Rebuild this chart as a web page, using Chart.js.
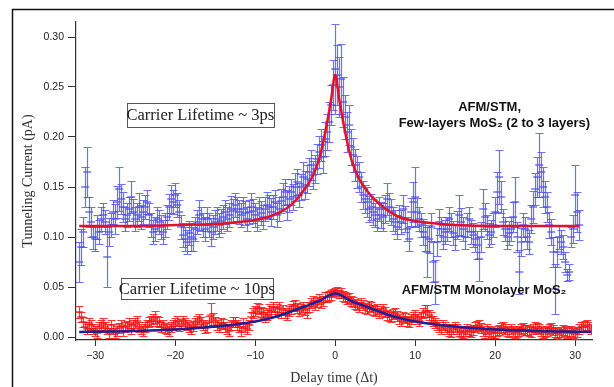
<!DOCTYPE html>
<html>
<head>
<meta charset="utf-8">
<script src="https://cdn.jsdelivr.net/npm/chart.js@4.4.1/dist/chart.umd.min.js"></script>
<style>
  html, body { margin: 0; padding: 0; background: #fff; }
  #wrap { width: 614px; height: 387px; position: relative; }
</style>
</head>
<body>
<div id="wrap"><canvas id="tc-chart"></canvas></div>
<script>
// delay times (ps), shared by both measurements
const delay = [
  -32,-31.75,-31.5,-31.25,-31,-30.75,-30.5,-30.25,
  -30,-29.75,-29.5,-29.25,-29,-28.75,-28.5,-28.25,
  -28,-27.75,-27.5,-27.25,-27,-26.75,-26.5,-26.25,
  -26,-25.75,-25.5,-25.25,-25,-24.75,-24.5,-24.25,
  -24,-23.75,-23.5,-23.25,-23,-22.75,-22.5,-22.25,
  -22,-21.75,-21.5,-21.25,-21,-20.75,-20.5,-20.25,
  -20,-19.75,-19.5,-19.25,-19,-18.75,-18.5,-18.25,
  -18,-17.75,-17.5,-17.25,-17,-16.75,-16.5,-16.25,
  -16,-15.75,-15.5,-15.25,-15,-14.75,-14.5,-14.25,
  -14,-13.75,-13.5,-13.25,-13,-12.75,-12.5,-12.25,
  -12,-11.75,-11.5,-11.25,-11,-10.75,-10.5,-10.25,
  -10,-9.75,-9.5,-9.25,-9,-8.75,-8.5,-8.25,
  -8,-7.75,-7.5,-7.25,-7,-6.75,-6.5,-6.25,
  -6,-5.75,-5.5,-5.25,-5,-4.75,-4.5,-4.25,
  -4,-3.75,-3.5,-3.25,-3,-2.75,-2.5,-2.25,
  -2,-1.75,-1.5,-1.25,-1,-0.75,-0.5,-0.25,
  0,0.25,0.5,0.75,1,1.25,1.5,1.75,
  2,2.25,2.5,2.75,3,3.25,3.5,3.75,
  4,4.25,4.5,4.75,5,5.25,5.5,5.75,
  6,6.25,6.5,6.75,7,7.25,7.5,7.75,
  8,8.25,8.5,8.75,9,9.25,9.5,9.75,
  10,10.25,10.5,10.75,11,11.25,11.5,11.75,
  12,12.25,12.5,12.75,13,13.25,13.5,13.75,
  14,14.25,14.5,14.75,15,15.25,15.5,15.75,
  16,16.25,16.5,16.75,17,17.25,17.5,17.75,
  18,18.25,18.5,18.75,19,19.25,19.5,19.75,
  20,20.25,20.5,20.75,21,21.25,21.5,21.75,
  22,22.25,22.5,22.75,23,23.25,23.5,23.75,
  24,24.25,24.5,24.75,25,25.25,25.5,25.75,
  26,26.25,26.5,26.75,27,27.25,27.5,27.75,
  28,28.25,28.5,28.75,29,29.25,29.5,29.75,
  30,30.25,30.5,30.75,31,31.25,31.5,31.75,
  32
];

// few-layers MoS2 (blue), pA
const fewLayer = [
  0.075,0.090,0.105,0.150,0.165,0.125,0.115,0.100,
  0.098,0.110,0.105,0.118,0.122,0.115,0.080,0.105,
  0.112,0.125,0.118,0.135,0.148,0.138,0.130,0.118,
  0.122,0.128,0.140,0.125,0.118,0.122,0.130,0.120,
  0.125,0.130,0.135,0.122,0.112,0.105,0.108,0.118,
  0.115,0.110,0.105,0.112,0.120,0.130,0.138,0.135,
  0.142,0.132,0.125,0.110,0.102,0.098,0.095,0.104,
  0.100,0.098,0.108,0.115,0.122,0.118,0.112,0.108,
  0.118,0.112,0.105,0.110,0.115,0.118,0.112,0.116,
  0.120,0.125,0.118,0.122,0.128,0.126,0.132,0.128,
  0.125,0.122,0.128,0.124,0.118,0.125,0.130,0.126,
  0.122,0.118,0.128,0.124,0.120,0.128,0.132,0.130,
  0.125,0.130,0.135,0.122,0.128,0.136,0.140,0.145,
  0.132,0.138,0.145,0.140,0.150,0.155,0.142,0.150,
  0.160,0.152,0.158,0.165,0.172,0.162,0.168,0.178,
  0.185,0.192,0.180,0.198,0.205,0.215,0.232,0.252,
  0.268,0.262,0.250,0.258,0.235,0.220,0.205,0.212,
  0.190,0.182,0.172,0.165,0.160,0.150,0.142,0.138,
  0.135,0.128,0.130,0.125,0.122,0.118,0.128,0.122,
  0.120,0.128,0.138,0.130,0.125,0.118,0.115,0.110,
  0.120,0.115,0.128,0.118,0.108,0.098,0.125,0.135,
  0.140,0.125,0.118,0.112,0.105,0.100,0.085,0.098,
  0.110,0.075,0.055,0.095,0.115,0.108,0.100,0.105,
  0.108,0.118,0.112,0.104,0.100,0.112,0.122,0.115,
  0.108,0.100,0.112,0.118,0.105,0.102,0.098,0.092,
  0.078,0.100,0.128,0.120,0.110,0.102,0.105,0.112,
  0.125,0.145,0.160,0.140,0.115,0.108,0.100,0.104,
  0.108,0.120,0.135,0.100,0.065,0.095,0.112,0.108,
  0.100,0.095,0.118,0.130,0.148,0.160,0.172,0.165,
  0.150,0.140,0.130,0.112,0.105,0.085,0.048,0.085,
  0.100,0.095,0.090,0.075,0.062,0.065,0.100,0.108,
  0.142,0.125,0.112,null,null,null,null,null,
  null
];
const fewLayerErr = [
  0.020,0.018,0.015,0.020,0.025,0.015,0.015,0.012,
  0.012,0.012,0.012,0.012,0.012,0.012,0.030,0.014,
  0.012,0.012,0.015,0.016,0.022,0.015,0.015,0.012,
  0.012,0.012,0.016,0.013,0.012,0.012,0.014,0.012,
  0.012,0.012,0.012,0.012,0.012,0.012,0.012,0.012,
  0.012,0.012,0.012,0.012,0.012,0.013,0.014,0.012,
  0.012,0.012,0.012,0.012,0.012,0.012,0.012,0.012,
  0.014,0.012,0.012,0.012,0.015,0.012,0.012,0.012,
  0.012,0.012,0.014,0.012,0.012,0.012,0.012,0.012,
  0.012,0.012,0.012,0.012,0.013,0.012,0.012,0.012,
  0.012,0.012,0.012,0.012,0.012,0.012,0.014,0.012,
  0.012,0.012,0.012,0.012,0.012,0.012,0.013,0.012,
  0.014,0.012,0.012,0.012,0.012,0.012,0.014,0.013,
  0.015,0.013,0.013,0.013,0.014,0.013,0.012,0.013,
  0.015,0.014,0.014,0.014,0.015,0.014,0.014,0.015,
  0.016,0.016,0.016,0.017,0.018,0.020,0.020,0.025,
  0.045,0.030,0.030,0.035,0.025,0.022,0.020,0.020,
  0.018,0.017,0.016,0.016,0.015,0.015,0.014,0.014,
  0.015,0.013,0.013,0.013,0.012,0.012,0.012,0.013,
  0.014,0.014,0.016,0.014,0.013,0.012,0.012,0.012,
  0.012,0.012,0.014,0.013,0.012,0.012,0.014,0.020,
  0.030,0.014,0.012,0.012,0.013,0.014,0.025,0.014,
  0.014,0.020,0.022,0.014,0.013,0.012,0.012,0.012,
  0.012,0.012,0.012,0.012,0.013,0.014,0.020,0.014,
  0.012,0.012,0.012,0.012,0.012,0.012,0.013,0.014,
  0.022,0.015,0.020,0.014,0.012,0.012,0.012,0.012,
  0.015,0.020,0.027,0.016,0.013,0.012,0.012,0.012,
  0.012,0.015,0.025,0.015,0.022,0.014,0.012,0.012,
  0.012,0.012,0.014,0.016,0.016,0.020,0.032,0.020,
  0.020,0.016,0.015,0.013,0.013,0.015,0.025,0.015,
  0.012,0.012,0.012,0.010,0.006,0.008,0.010,0.014,
  0.030,0.020,0.015,null,null,null,null,null,
  null
];

// monolayer MoS2 (red), pA
const monoLayer = [
  0.025,0.020,0.015,0.010,0.008,0.014,0.012,0.008,
  0.006,0.004,0.010,0.012,0.014,0.010,0.008,0.004,
  0.012,0.008,0.004,0.006,0.009,0.012,0.006,0.010,
  0.011,0.014,0.008,0.012,0.014,0.016,0.010,0.008,
  0.006,0.010,0.012,0.015,0.016,0.018,0.020,0.016,
  0.015,0.010,0.012,0.009,0.008,0.006,0.010,0.012,
  0.014,0.016,0.011,0.013,0.016,0.014,0.012,0.010,
  0.008,0.011,0.014,0.016,0.018,0.015,0.012,0.009,
  0.010,0.016,0.022,0.018,0.015,0.012,0.010,0.014,
  0.013,0.010,0.008,0.006,0.012,0.015,0.015,0.012,
  0.010,0.006,0.014,0.010,0.008,0.012,0.020,0.024,
  0.026,0.029,0.028,0.025,0.024,0.020,0.022,0.028,
  0.026,0.030,0.025,0.028,0.030,0.024,0.027,0.024,
  0.022,0.026,0.028,0.031,0.032,0.029,0.026,0.028,
  0.030,0.027,0.024,0.030,0.034,0.036,0.032,0.035,
  0.038,0.034,0.036,0.040,0.040,0.041,0.042,0.044,
  0.045,0.046,0.043,0.044,0.041,0.040,0.038,0.039,
  0.036,0.035,0.033,0.032,0.030,0.034,0.032,0.029,
  0.028,0.031,0.030,0.027,0.026,0.028,0.024,0.026,
  0.028,0.025,0.022,0.021,0.020,0.023,0.024,0.021,
  0.018,0.016,0.020,0.019,0.016,0.015,0.018,0.020,
  0.022,0.018,0.016,0.020,0.024,0.026,0.026,0.022,
  0.020,0.016,0.014,0.012,0.010,0.008,0.012,0.010,
  0.008,0.006,0.005,0.008,0.010,0.008,0.006,0.005,
  0.004,0.006,0.008,0.006,0.005,0.007,0.010,0.011,
  0.012,0.009,0.006,0.004,0.008,0.006,0.005,0.004,
  0.004,0.006,0.007,0.009,0.010,0.008,0.006,0.005,
  0.008,0.006,0.004,0.005,0.006,0.008,0.009,0.007,
  0.007,0.006,0.005,0.008,0.010,0.009,0.008,0.006,
  0.004,0.005,0.006,0.008,0.009,0.007,0.005,0.004,
  0.003,0.005,0.007,0.006,0.004,0.005,0.006,0.004,
  0.003,0.005,0.008,0.010,0.010,0.011,0.012,0.010,
  0.008
];
const monoLayerErr = [
  0.006,0.005,0.005,0.005,0.005,0.005,0.005,0.005,
  0.005,0.005,0.005,0.005,0.005,0.005,0.005,0.005,
  0.005,0.005,0.005,0.005,0.005,0.005,0.005,0.005,
  0.005,0.005,0.005,0.005,0.005,0.005,0.005,0.005,
  0.005,0.005,0.005,0.005,0.005,0.005,0.006,0.005,
  0.005,0.005,0.005,0.005,0.005,0.005,0.005,0.005,
  0.005,0.005,0.005,0.005,0.005,0.005,0.005,0.005,
  0.005,0.005,0.005,0.005,0.005,0.005,0.005,0.005,
  0.005,0.005,0.012,0.006,0.005,0.005,0.005,0.005,
  0.005,0.005,0.005,0.005,0.005,0.005,0.005,0.005,
  0.005,0.005,0.005,0.005,0.005,0.005,0.005,0.005,
  0.005,0.005,0.005,0.005,0.005,0.005,0.005,0.005,
  0.005,0.005,0.005,0.005,0.005,0.005,0.005,0.005,
  0.005,0.005,0.005,0.005,0.005,0.005,0.005,0.005,
  0.005,0.005,0.005,0.005,0.005,0.005,0.005,0.005,
  0.005,0.005,0.005,0.005,0.005,0.005,0.005,0.004,
  0.004,0.004,0.004,0.005,0.005,0.005,0.005,0.005,
  0.005,0.005,0.005,0.005,0.005,0.005,0.005,0.005,
  0.005,0.005,0.005,0.005,0.005,0.005,0.005,0.005,
  0.005,0.005,0.005,0.005,0.005,0.005,0.005,0.005,
  0.005,0.005,0.005,0.005,0.005,0.005,0.005,0.005,
  0.005,0.005,0.005,0.005,0.005,0.006,0.006,0.005,
  0.005,0.005,0.005,0.005,0.005,0.005,0.005,0.005,
  0.005,0.005,0.005,0.005,0.005,0.005,0.005,0.005,
  0.005,0.005,0.005,0.005,0.005,0.005,0.005,0.005,
  0.005,0.005,0.005,0.005,0.005,0.005,0.005,0.005,
  0.005,0.005,0.005,0.005,0.005,0.005,0.005,0.005,
  0.005,0.005,0.005,0.005,0.005,0.005,0.005,0.005,
  0.005,0.005,0.005,0.005,0.005,0.005,0.005,0.005,
  0.005,0.005,0.005,0.005,0.005,0.005,0.005,0.005,
  0.005,0.005,0.005,0.005,0.005,0.005,0.005,0.005,
  0.005,0.005,0.005,0.005,0.005,0.005,0.005,0.005,
  0.005
];

// fitted curves
const fitFewX = [-32,-25,-20,-15,-12,-10,-8,-6,-5,-4,-3,-2,-1.5,-1,-0.5,0,0.5,1,1.5,2,3,4,5,6,8,10,12,15,20,25,30.5];
const fitFewY = [0.111,0.111,0.112,0.113,0.115,0.117,0.121,0.129,0.136,0.146,0.158,0.178,0.195,0.215,0.238,0.262,0.238,0.215,0.195,0.178,0.158,0.146,0.137,0.130,0.120,0.116,0.114,0.112,0.111,0.111,0.111];
const fitMonoX = [-32,-28,-25,-20,-15,-12,-10,-8,-6,-4,-2,0,2,4,6,8,10,12,15,20,25,28,32];
const fitMonoY = [0.0050,0.0055,0.0060,0.0075,0.0105,0.0130,0.0155,0.0190,0.0240,0.0300,0.0360,0.0435,0.0360,0.0300,0.0240,0.0190,0.0155,0.0130,0.0105,0.0075,0.0060,0.0055,0.0050];

const xTicks = [-30, -20, -10, 0, 10, 20, 30];
const yTicks = [0, 0.05, 0.10, 0.15, 0.20, 0.25, 0.30];

(function() {
    'use strict';

    const BLUE = 'rgba(72,72,255,0.78)';
    const RED = 'rgba(255,16,16,0.85)';
    const CAP = 4; // half width of error bar caps, px

    function pts(xs, ys) {
        return xs.map((t, i) => ({ x: t, y: ys[i] }));
    }

    // vertical error bars with caps, drawn under each data set's own markers
    const errorBars = {
        id: 'errorBars',
        beforeDatasetDraw(chart, args) {
            const ds = chart.data.datasets[args.index];
            if (!ds.errors) return;
            const { ctx, chartArea, scales: { x, y } } = chart;
            ctx.save();
            ctx.beginPath();
            ctx.rect(chartArea.left, chartArea.top, chartArea.right - chartArea.left, chartArea.bottom - chartArea.top);
            ctx.clip();
            ctx.strokeStyle = ds.borderColor;
            ctx.lineWidth = 1.2;
            ds.data.forEach((p, i) => {
                const e = ds.errors[i];
                if (p.y == null || e == null) return;
                const px = Math.round(x.getPixelForValue(p.x)) + 0.5;
                const top = Math.round(y.getPixelForValue(p.y + e)) + 0.5;
                const bot = Math.round(y.getPixelForValue(p.y - e)) + 0.5;
                ctx.beginPath();
                ctx.moveTo(px, top); ctx.lineTo(px, bot);
                ctx.moveTo(px - CAP, top); ctx.lineTo(px + CAP, top);
                ctx.moveTo(px - CAP, bot); ctx.lineTo(px + CAP, bot);
                ctx.stroke();
            });
            ctx.restore();
        }
    };

    // frame and text labels
    const notes = {
        id: 'notes',
        afterDraw(chart) {
            const { ctx, scales: { x, y } } = chart;
            ctx.save();
            ctx.strokeStyle = '#111';
            ctx.lineWidth = 1.5;
            ctx.strokeRect(12.5, 9.5, 800, 600);

            function box(text, cx, cy, w, h) {
                const px = x.getPixelForValue(cx), py = y.getPixelForValue(cy);
                ctx.fillStyle = '#fff';
                ctx.fillRect(px - w / 2, py - h / 2, w, h);
                ctx.strokeStyle = '#555';
                ctx.lineWidth = 1;
                ctx.strokeRect(Math.round(px - w / 2) + 0.5, Math.round(py - h / 2) + 0.5, w, h);
                ctx.fillStyle = '#222';
                ctx.font = '16.5px "Liberation Serif", serif';
                ctx.textAlign = 'center';
                ctx.textBaseline = 'middle';
                ctx.fillText(text, px, py + 1);
            }
            box('Carrier Lifetime ~ 3ps', -16.85, 0.2225, 147, 24);
            box('Carrier Lifetime ~ 10ps', -17.3, 0.0485, 152, 21);

            ctx.fillStyle = '#111';
            ctx.font = 'bold 13px "Liberation Sans", Arial, sans-serif';
            ctx.textAlign = 'center';
            ctx.textBaseline = 'middle';
            ctx.fillText('AFM/STM,', x.getPixelForValue(19.3), y.getPixelForValue(0.230));
            ctx.fillText('Few-layers MoS\u2082 (2 to 3 layers)', x.getPixelForValue(19.9), y.getPixelForValue(0.214));
            ctx.fillText('AFM/STM Monolayer MoS\u2082', x.getPixelForValue(18.6), y.getPixelForValue(0.047));
            ctx.restore();
        }
    };

    const tickFont = { family: '"Liberation Sans", Arial, sans-serif', size: 10.5 };
    const titleFont = { family: '"Liberation Serif", serif', size: 14 };

    function initChart() {
        const canvas = document.getElementById('tc-chart');
        new Chart(canvas.getContext('2d'), {
            type: 'scatter',
            data: {
                datasets: [
                    {
                        label: 'fit few-layers',
                        data: pts(fitFewX, fitFewY),
                        showLine: true,
                        borderColor: '#e3122c',
                        borderWidth: 2.5,
                        pointRadius: 0,
                        cubicInterpolationMode: 'monotone',
                        order: 0
                    },
                    {
                        label: 'fit monolayer',
                        data: pts(fitMonoX, fitMonoY),
                        showLine: true,
                        borderColor: '#1f1f96',
                        borderWidth: 2.5,
                        pointRadius: 0,
                        cubicInterpolationMode: 'monotone',
                        order: 0
                    },
                    {
                        label: 'few-layers MoS2',
                        data: pts(delay, fewLayer),
                        errors: fewLayerErr,
                        borderColor: BLUE,
                        backgroundColor: BLUE,
                        pointStyle: 'line',
                        pointRadius: 4,
                        pointBorderWidth: 1.5,
                        order: 2
                    },
                    {
                        label: 'monolayer MoS2',
                        data: pts(delay, monoLayer),
                        errors: monoLayerErr,
                        borderColor: RED,
                        backgroundColor: RED,
                        pointStyle: 'line',
                        pointRadius: 4,
                        pointBorderWidth: 1.5,
                        order: 1
                    }
                ]
            },
            options: {
                responsive: true,
                maintainAspectRatio: false,
                animation: false,
                layout: { padding: { left: 0, right: 22, top: 22, bottom: 0 } },
                plugins: { legend: { display: false }, tooltip: { enabled: false } },
                scales: {
                    x: {
                        type: 'linear',
                        min: -32.4, max: 32.1,
                        afterFit: s => { s.height = 47; },
                        afterBuildTicks: s => { s.ticks = xTicks.map(v => ({ value: v })); },
                        grid: { drawOnChartArea: false, drawTicks: true, tickLength: 6, color: '#333' },
                        border: { display: true, color: '#333', width: 1.2 },
                        ticks: {
                            font: tickFont, color: '#222', padding: 4,
                            callback: v => String(v).replace('-', '\u2212')
                        },
                        title: { display: true, text: 'Delay time (\u0394t)', font: titleFont, color: '#333', padding: { top: 5, bottom: 0 } }
                    },
                    y: {
                        min: -0.003, max: 0.315,
                        afterFit: s => { s.width = 76; },
                        afterBuildTicks: s => { s.ticks = yTicks.map(v => ({ value: v })); },
                        grid: { drawOnChartArea: false, drawTicks: true, tickLength: 8, color: '#333' },
                        border: { display: true, color: '#333', width: 1.2 },
                        ticks: {
                            font: tickFont, color: '#222', padding: 4,
                            callback: v => v.toFixed(2)
                        },
                        title: { display: true, text: 'Tunneling Current (pA)', font: titleFont, color: '#333', padding: { top: 20, bottom: 0 } }
                    }
                }
            },
            plugins: [errorBars, notes]
        });
    }

    document.addEventListener('DOMContentLoaded', initChart);
})();
</script>
</body>
</html>
